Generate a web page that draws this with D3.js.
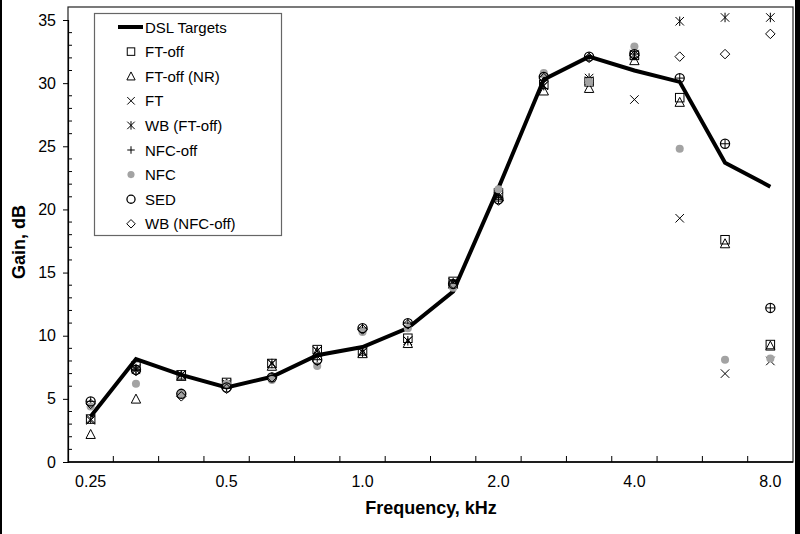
<!DOCTYPE html>
<html>
<head>
<meta charset="utf-8">
<script src="https://cdn.jsdelivr.net/npm/d3@7"></script>
<style>
  html, body { margin: 0; padding: 0; background: #fff; }
  svg { display: block; font-family: Arial, "Liberation Sans", sans-serif; }
</style>
</head>
<body>
<svg id="chart" width="800" height="534"></svg>
<script>
// ---- data ----
const freqs = ["0.25","0.315","0.4","0.5","0.63","0.8","1.0","1.25","1.6","2.0","2.5","3.15","4.0","5.0","6.3","8.0"];
const xTickLabels = ["0.25","0.5","1.0","2.0","4.0","8.0"];
const yTicks = [0, 5, 10, 15, 20, 25, 30, 35];

const dslTargets = [3.6, 8.15, 6.9, 5.9, 6.75, 8.45, 9.1, 10.6, 13.5, 21.7, 30.3, 32.1, 31.0, 30.1, 23.7, 21.8];
const ftOff      = [3.4, 7.6, 6.9, 6.3, 7.8, 8.9, 8.8, 9.8, 14.3, 21.3, 29.9, 30.1, 32.2, 28.85, 17.6, 9.3];
const ftOffNR    = [2.2, 5.0, 6.8, 6.2, 7.6, 8.7, 8.6, 9.4, 14.1, 21.0, 29.4, 29.6, 31.8, 28.5, 17.3, 9.2];
const ft         = [3.3, 7.3, 6.9, 6.1, 7.8, 8.8, 8.7, 9.6, 14.2, 21.0, 29.8, 30.2, 28.7, 19.3, 7.0, 8.0];
const wbFtOff    = [3.4, 7.4, 6.9, 6.2, 7.8, 8.8, 8.7, 9.6, 14.2, 21.2, 29.8, 30.4, 32.3, 34.9, 35.2, 35.2];
const nfcOff     = [4.8, 7.3, 5.4, 5.9, 6.7, 8.1, 10.6, 11.0, 14.1, 20.8, 30.5, 32.1, 32.3, 30.4, 25.2, 12.2];
const nfc        = [4.4, 6.2, 5.4, 6.2, 6.5, 7.6, 10.3, 10.6, 13.8, 21.6, 30.8, 30.1, 32.9, 24.8, 8.1, 8.2];
const sed        = [4.8, 7.3, 5.4, 5.9, 6.7, 8.1, 10.6, 11.0, 14.1, 20.8, 30.5, 32.1, 32.3, 30.4, 25.2, 12.2];
const wbNfcOff   = [4.6, 7.2, 5.2, 5.8, 6.7, 8.0, 10.5, 10.9, 14.1, 20.7, 30.4, 32.0, 32.2, 32.1, 32.3, 33.9];

const seriesNames = ["DSL Targets","FT-off","FT-off (NR)","FT","WB (FT-off)","NFC-off","NFC","SED","WB (NFC-off)"];
const seriesMarkers = ["line","square","triangle","x","asterisk","plus","dot","circle","diamond"];
const seriesValues = [dslTargets, ftOff, ftOffNR, ft, wbFtOff, nfcOff, nfc, sed, wbNfcOff];

// ---- layout ----
const svg = d3.select("#chart");
const plot = { left: 68, right: 793, top: 7, bottom: 462 };

const x = d3.scaleBand().domain(freqs).range([plot.left, plot.right]).paddingInner(0).paddingOuter(0);
const y = d3.scaleLinear().domain([0, 35]).range([plot.bottom, 20]);
const cx = f => x(f) + x.bandwidth() / 2;

// outer frame
svg.append("rect").attr("x", 0).attr("y", 0).attr("width", 2).attr("height", 534).attr("fill", "#000");
svg.append("rect").attr("x", 795).attr("y", 0).attr("width", 5).attr("height", 534).attr("fill", "#000");

// plot box
svg.append("rect")
  .attr("x", plot.left).attr("y", plot.top)
  .attr("width", plot.right - plot.left).attr("height", plot.bottom - plot.top)
  .attr("fill", "none").attr("stroke", "#222").attr("stroke-width", 1.2);

// Y axis (major ticks outside, labelled)
const yAxis = d3.axisLeft(y).tickValues(yTicks).tickSize(5).tickPadding(7).tickFormat(d3.format("d"));
const gy = svg.append("g").attr("transform", `translate(${plot.left},0)`).call(yAxis);
gy.select(".domain").attr("stroke", "#000").attr("stroke-width", 1.2);
gy.selectAll(".tick line").attr("stroke", "#000");
gy.selectAll(".tick text").attr("font-size", 16).attr("fill", "#000").attr("font-family", "Arial, 'Liberation Sans', sans-serif");

// Y minor ticks inside
const minor = d3.range(0, 36).filter(v => v % 5 !== 0);
svg.append("g").selectAll("line").data(minor).join("line")
  .attr("x1", plot.left).attr("x2", plot.left + 4)
  .attr("y1", d => y(d)).attr("y2", d => y(d))
  .attr("stroke", "#000").attr("stroke-width", 1);

// X axis: ticks between categories (inside), labels under selected categories
const boundaries = freqs.slice(1);
svg.append("line").attr("x1", plot.left).attr("x2", plot.right)
  .attr("y1", plot.bottom).attr("y2", plot.bottom).attr("stroke", "#000").attr("stroke-width", 1.5);
svg.append("g").selectAll("line").data(boundaries).join("line")
  .attr("x1", d => x(d)).attr("x2", d => x(d))
  .attr("y1", plot.bottom).attr("y2", plot.bottom - 6)
  .attr("stroke", "#000").attr("stroke-width", 1);
svg.append("g").selectAll("text").data(xTickLabels).join("text")
  .attr("x", d => cx(d)).attr("y", 487)
  .attr("text-anchor", "middle").attr("font-size", 16).attr("fill", "#000")
  .text(d => d);

// axis titles
svg.append("text").attr("x", 431).attr("y", 514)
  .attr("text-anchor", "middle").attr("font-size", 18).attr("font-weight", "bold")
  .text("Frequency, kHz");
svg.append("text")
  .attr("transform", "translate(25,242) rotate(-90)")
  .attr("text-anchor", "middle").attr("font-size", 18).attr("font-weight", "bold")
  .text("Gain, dB");

// marker drawing
function drawMarker(g, type, px, py, s) {
  const h = s / 2;
  const st = { stroke: "#000", "stroke-width": 1, fill: "none" };
  const apply = (sel, o) => { for (const k in o) sel.attr(k, o[k]); return sel; };
  if (type === "square") {
    apply(g.append("rect").attr("x", px - h).attr("y", py - h).attr("width", s).attr("height", s), st);
  } else if (type === "triangle") {
    const hw = h * 1.1;
    apply(g.append("path").attr("d", `M${px},${py - h - 0.5}L${px + hw},${py + h}L${px - hw},${py + h}Z`), st);
  } else if (type === "x") {
    apply(g.append("path").attr("d", `M${px - h},${py - h}L${px + h},${py + h}M${px - h},${py + h}L${px + h},${py - h}`), st);
  } else if (type === "asterisk") {
    apply(g.append("path").attr("d", `M${px - h},${py - h}L${px + h},${py + h}M${px - h},${py + h}L${px + h},${py - h}M${px},${py - h - 0.5}L${px},${py + h + 0.5}`), st);
  } else if (type === "plus") {
    apply(g.append("path").attr("d", `M${px - h},${py}L${px + h},${py}M${px},${py - h}L${px},${py + h}`), st);
  } else if (type === "dot") {
    g.append("circle").attr("cx", px).attr("cy", py).attr("r", h * 0.95).attr("fill", "#a3a3a3");
  } else if (type === "circle") {
    apply(g.append("circle").attr("cx", px).attr("cy", py).attr("r", h + 0.3), Object.assign({}, st, { "stroke-width": 1.3 }));
  } else if (type === "diamond") {
    const d = h + 0.5;
    apply(g.append("path").attr("d", `M${px},${py - d}L${px + d},${py}L${px},${py + d}L${px - d},${py}Z`), st);
  }
}

// DSL target line
const line = d3.line().x((d, i) => cx(freqs[i])).y(d => y(d));
svg.append("path").datum(dslTargets)
  .attr("d", line).attr("fill", "none").attr("stroke", "#000")
  .attr("stroke-width", 4).attr("stroke-linejoin", "miter");

// markers, series in order
seriesValues.forEach((vals, si) => {
  if (seriesMarkers[si] === "line") return;
  const g = svg.append("g");
  vals.forEach((v, i) => drawMarker(g, seriesMarkers[si], cx(freqs[i]), y(v), 8.5));
});

// legend
const lg = svg.append("g");
lg.append("rect").attr("x", 94.5).attr("y", 13.5).attr("width", 187).attr("height", 222)
  .attr("fill", "#fff").attr("stroke", "#666").attr("stroke-width", 1.2);
seriesNames.forEach((name, i) => {
  const ly = 27 + i * 24.6;
  if (seriesMarkers[i] === "line") {
    lg.append("line").attr("x1", 118).attr("x2", 143).attr("y1", ly).attr("y2", ly)
      .attr("stroke", "#000").attr("stroke-width", 4);
  } else {
    drawMarker(lg, seriesMarkers[i], 131, ly, 7.5);
  }
  lg.append("text").attr("x", 145).attr("y", ly + 5.5).attr("font-size", 15).attr("fill", "#000").text(name);
});
</script>
</body>
</html>
